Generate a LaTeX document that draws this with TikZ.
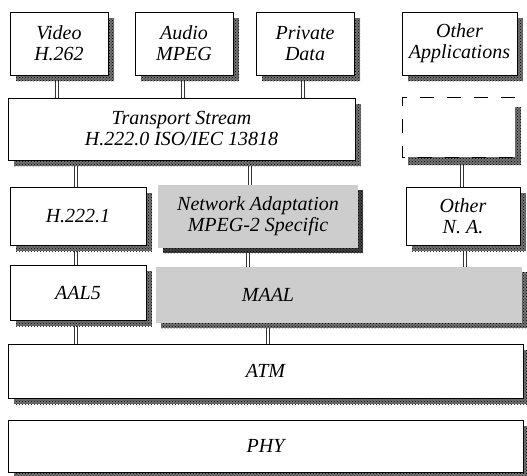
\documentclass[tikz,border=0pt]{standalone}
\usepackage{fontspec}
\setmainfont{Liberation Serif}
\usetikzlibrary{backgrounds,calc,patterns}
\definecolor{fillg}{RGB}{205,205,205}
\definecolor{shd}{RGB}{115,115,115}
\definecolor{shddark}{RGB}{65,65,65}
\begin{document}
\begin{tikzpicture}[x=1pt,y=-1pt,
  txt/.style={inner sep=0pt, outer sep=0pt, align=center, font=\fontsize{20}{21}\selectfont\itshape},
  lay/.style={txt, draw=black, line width=0.9pt, fill=white},
  grey/.style={txt, fill=fillg},
  ghost/.style={txt, fill=white},
  shadownode/.style={inner sep=0pt, outer sep=0pt, fill=shd, draw=none,
    postaction={pattern=crosshatch dots, pattern color=black}},
  link/.style={draw=black!80, line width=0.8pt, double=white, double distance=2.2pt},
  dsh/.style={line width=1pt, dash pattern=on 14pt off 13pt}]
\useasboundingbox (0,0) rectangle (527,475);
% shadows
\node[shadownode, minimum width=98pt, minimum height=63pt] (vidS) at (65,49.5) {};
\node[shadownode, minimum width=98pt, minimum height=63pt] (audS) at (190,49.5) {};
\node[shadownode, minimum width=98pt, minimum height=63pt] (prvS) at (311,49.5) {};
\node[shadownode, minimum width=115pt, minimum height=63pt] (oapS) at (465.5,49.5) {};
\node[shadownode, minimum width=347pt, minimum height=62pt] (tsS) at (187.5,135) {};
\node[shadownode, minimum width=113pt, minimum height=58pt] (dboxS) at (464.5,136) {};
\node[shadownode, minimum width=136pt, minimum height=58pt] (h221S) at (84,222) {};
\node[shadownode, fill=shddark, minimum width=200pt, minimum height=63pt] (naS) at (263,221.5) {};
\node[shadownode, minimum width=114pt, minimum height=58pt] (onaS) at (469,222) {};
\node[shadownode, minimum width=136pt, minimum height=55pt] (aalS) at (84,298.5) {};
\node[shadownode, minimum width=366pt, minimum height=56pt] (maalS) at (344,300) {};
\node[shadownode, minimum width=515pt, minimum height=54pt] (atmS) at (271.5,377) {};
\node[shadownode, minimum width=515pt, minimum height=52pt] (phyS) at (271.5,452) {};
% top row
\node[lay, minimum width=98pt, minimum height=63pt] (vid) at (59,43.5) {Video\\H.262};
\node[lay, minimum width=98pt, minimum height=63pt] (aud) at (184,43.5) {Audio\\MPEG};
\node[lay, minimum width=98pt, minimum height=63pt] (prv) at (305,43.5) {Private\\Data};
\node[lay, minimum width=115pt, minimum height=63pt] (oap) at (459.5,43.5) {Other\\Applications};
% transport
\node[lay, minimum width=347pt, minimum height=62pt] (ts) at (181.5,129) {Transport Stream\\H.222.0 ISO/IEC 13818};
\node[ghost, minimum width=113pt, minimum height=60pt] (dbox) at (458.5,127) {};
\draw[dsh] (dbox.north east) -- (dbox.north west) -- (dbox.south west) -- (dbox.south east);
% adaptation row
\node[lay, minimum width=136pt, minimum height=58pt] (h221) at (78,216) {H.222.1};
\node[grey, minimum width=200pt, minimum height=63pt] (na) at (258,216.5) {Network Adaptation\\MPEG-2 Specific};
\node[lay, minimum width=114pt, minimum height=58pt] (ona) at (463,216) {Other\\N. A.};
% AAL row
\node[lay, minimum width=136pt, minimum height=55pt] (aal) at (78,292.5) {AAL5};
\node[grey, minimum width=366pt, minimum height=56pt] (maal) at (339,295) {\hspace*{-142pt}MAAL};
% ATM / PHY
\node[lay, minimum width=515pt, minimum height=54pt] (atm) at (265.5,371) {ATM};
\node[lay, minimum width=515pt, minimum height=52pt] (phy) at (265.5,446) {PHY};
% connectors
\begin{pgfonlayer}{background}
\draw[link] ([xshift=-2pt]vid.south) -- ([xshift=-2pt]vid.south |- ts.north);
\draw[link] ([xshift=-1pt]aud.south) -- ([xshift=-1pt]aud.south |- ts.north);
\draw[link] ([xshift=-2pt]prv.south) -- ([xshift=-2pt]prv.south |- ts.north);
\draw[link] (oap.south) -- (oap.south |- dbox.north);
\draw[link] ([xshift=-2pt]h221.north) -- ([xshift=-2pt]h221.north |- ts.south);
\draw[link] ([xshift=-8pt]na.north) -- ([xshift=-8pt]na.north |- ts.south);
\draw[link] ([xshift=-1pt]ona.north) -- ([xshift=-1pt]ona.north |- dbox.south);
\draw[link] ([xshift=-2pt]h221.south) -- ([xshift=-2pt]h221.south |- aal.north);
\draw[link] ([xshift=-10pt]na.south) -- ([xshift=-10pt]na.south |- maal.north);
\draw[link] ([xshift=2pt]ona.south) -- ([xshift=2pt]ona.south |- maal.north);
\draw[link] ([xshift=-2pt]aal.south) -- ([xshift=-2pt]aal.south |- atm.north);
\draw[link] ([xshift=-71pt]maal.south) -- ([xshift=-71pt]maal.south |- atm.north);
\draw[link] ([xshift=1pt]atm.south) -- ([xshift=1pt]atm.south |- phy.north);
\end{pgfonlayer}
\end{tikzpicture}
\end{document}
